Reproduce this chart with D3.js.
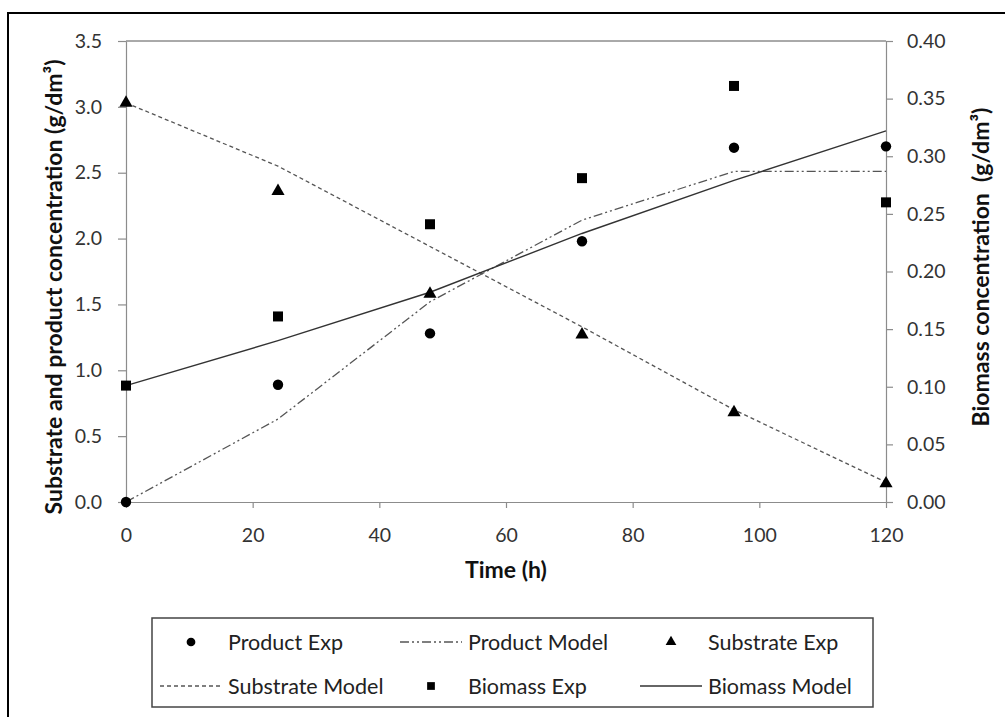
<!DOCTYPE html>
<html>
<head>
<meta charset="utf-8">
<script src="https://cdn.jsdelivr.net/npm/d3@7"></script>
<style>
  html, body { margin: 0; padding: 0; background: #fff; }
  svg { display: block; font-family: Lato, "Noto Sans", sans-serif; }
</style>
</head>
<body>
<svg id="chart" width="1005" height="717"></svg>
<script>
// ---------------- data ----------------
const time = [0, 24, 48, 72, 96, 120];
const productExp     = [0.00, 0.89, 1.28, 1.98, 2.69, 2.70];
const productModel   = [0.00, 0.63, 1.52, 2.14, 2.51, 2.51];
const substrateExp   = [3.03, 2.36, 1.58, 1.27, 0.68, 0.14];
const substrateModel = [3.03, 2.55, 1.94, 1.33, 0.70, 0.15];
const biomassExp     = [0.101, 0.161, 0.241, 0.281, 0.361, 0.260];
const biomassModel   = [0.101, 0.140, 0.182, 0.233, 0.279, 0.322];

const xTicks = [0, 20, 40, 60, 80, 100, 120];
const yLeftTicks = [0, 0.5, 1.0, 1.5, 2.0, 2.5, 3.0, 3.5];
const yRightTicks = [0, 0.05, 0.10, 0.15, 0.20, 0.25, 0.30, 0.35, 0.40];

const legendItems = [
  { label: "Product Exp",     kind: "circle" },
  { label: "Product Model",   kind: "line", dash: "9,3,2,3,2,3", color: "#555" },
  { label: "Substrate Exp",   kind: "triangle" },
  { label: "Substrate Model", kind: "line", dash: "4,3", color: "#555" },
  { label: "Biomass Exp",     kind: "square" },
  { label: "Biomass Model",   kind: "line", dash: null, color: "#333" }
];

// ---------------- layout ----------------
const plot = { left: 126, right: 886, top: 41, bottom: 502 };
const svg = d3.select("#chart");

// outer frame
svg.append("rect")
  .attr("x", 8).attr("y", 13).attr("width", 1010).attr("height", 720)
  .attr("fill", "none").attr("stroke", "#000").attr("stroke-width", 2);

const x = d3.scaleLinear().domain([0, 120]).range([plot.left, plot.right]);
const yL = d3.scaleLinear().domain([0, 3.5]).range([plot.bottom, plot.top]);
const yR = d3.scaleLinear().domain([0, 0.4]).range([plot.bottom, plot.top]);

const axisColor = "#8c8c8c";
const textColor = "#333";
const fontSize = 19.5;
const titleSize = 23;

// top border of plot area
svg.append("line")
  .attr("x1", plot.left).attr("x2", plot.right)
  .attr("y1", plot.top).attr("y2", plot.top)
  .attr("stroke", "#555").attr("stroke-width", 1);

function styleAxis(g) {
  g.selectAll("path.domain").attr("stroke", axisColor).attr("stroke-width", 1.2);
  g.selectAll(".tick line").attr("stroke", axisColor).attr("stroke-width", 1.2);
  g.selectAll(".tick text").attr("fill", textColor)
    .style("font-size", fontSize + "px").style("font-family", "Lato, sans-serif");
}

const gx = svg.append("g").attr("transform", `translate(0,${plot.bottom})`)
  .call(d3.axisBottom(x).tickValues(xTicks).tickFormat(d3.format("d"))
    .tickSize(6).tickSizeOuter(0).tickPadding(20));
styleAxis(gx);

const gyl = svg.append("g").attr("transform", `translate(${plot.left},0)`)
  .call(d3.axisLeft(yL).tickValues(yLeftTicks).tickFormat(d3.format(".1f"))
    .tickSize(8).tickSizeOuter(0).tickPadding(16));
styleAxis(gyl);

const gyr = svg.append("g").attr("transform", `translate(${plot.right},0)`)
  .call(d3.axisRight(yR).tickValues(yRightTicks).tickFormat(d3.format(".2f"))
    .tickSize(7).tickSizeOuter(0).tickPadding(14));
styleAxis(gyr);

// axis titles
svg.append("text")
  .attr("x", (plot.left + plot.right) / 2).attr("y", 578)
  .attr("text-anchor", "middle").attr("font-weight", "bold")
  .attr("fill", "#111").style("font-size", titleSize + "px")
  .text("Time (h)");

svg.append("text")
  .attr("transform", "translate(62,287) rotate(-90)")
  .attr("text-anchor", "middle").attr("font-weight", "bold")
  .attr("fill", "#111").style("font-size", titleSize + "px")
  .text("Substrate and product concentration (g/dm³)");

svg.append("text")
  .attr("transform", "translate(989,267) rotate(-90)")
  .attr("text-anchor", "middle").attr("font-weight", "bold")
  .attr("fill", "#111").style("font-size", titleSize + "px").style("white-space", "pre")
  .text("Biomass concentration  (g/dm³)");

// ---------------- series ----------------
const lineL = d3.line().x((d, i) => x(time[i])).y(d => yL(d));
const lineR = d3.line().x((d, i) => x(time[i])).y(d => yR(d));

svg.append("path").datum(substrateModel).attr("d", lineL)
  .attr("fill", "none").attr("stroke", "#555").attr("stroke-width", 1.3)
  .attr("stroke-dasharray", "4,3");

svg.append("path").datum(productModel).attr("d", lineL)
  .attr("fill", "none").attr("stroke", "#555").attr("stroke-width", 1.3)
  .attr("stroke-dasharray", "9,3,2,3,2,3");

svg.append("path").datum(biomassModel).attr("d", lineR)
  .attr("fill", "none").attr("stroke", "#333").attr("stroke-width", 1.4);

const sym = {
  circle: d3.symbol().type(d3.symbolCircle).size(85),
  square: d3.symbol().type(d3.symbolSquare).size(100),
  triangle: d3.symbol().type(d3.symbolTriangle).size(75)
};

svg.append("g").selectAll("path").data(productExp).join("path")
  .attr("d", sym.circle())
  .attr("transform", (d, i) => `translate(${x(time[i])},${yL(d)})`)
  .attr("fill", "#000");

svg.append("g").selectAll("path").data(substrateExp).join("path")
  .attr("d", sym.triangle())
  .attr("transform", (d, i) => `translate(${x(time[i])},${yL(d)})`)
  .attr("fill", "#000");

svg.append("g").selectAll("path").data(biomassExp).join("path")
  .attr("d", sym.square())
  .attr("transform", (d, i) => `translate(${x(time[i])},${yR(d)})`)
  .attr("fill", "#000");

// ---------------- legend ----------------
const leg = svg.append("g");
leg.append("rect")
  .attr("x", 152).attr("y", 618).attr("width", 721).attr("height", 89)
  .attr("fill", "#fff").attr("stroke", "#444").attr("stroke-width", 1.5);

const colX = [160, 400, 640];
const rowY = [642, 686];
const legSym = {
  circle: d3.symbol().type(d3.symbolCircle).size(60),
  square: d3.symbol().type(d3.symbolSquare).size(60),
  triangle: d3.symbol().type(d3.symbolTriangle).size(50)
};

legendItems.forEach((it, i) => {
  const cx = colX[i % 3], cy = rowY[Math.floor(i / 3)];
  const g = leg.append("g");
  if (it.kind === "line") {
    g.append("line").attr("x1", cx).attr("x2", cx + 62).attr("y1", cy).attr("y2", cy)
      .attr("stroke", it.color).attr("stroke-width", 1.3)
      .attr("stroke-dasharray", it.dash);
  } else {
    g.append("path").attr("d", legSym[it.kind]())
      .attr("transform", `translate(${cx + 31},${cy})`).attr("fill", "#000");
  }
  g.append("text").attr("x", cx + 68).attr("y", cy).attr("dy", "0.35em")
    .attr("fill", "#222").style("font-size", "21.5px")
    .text(it.label);
});
</script>
</body>
</html>
